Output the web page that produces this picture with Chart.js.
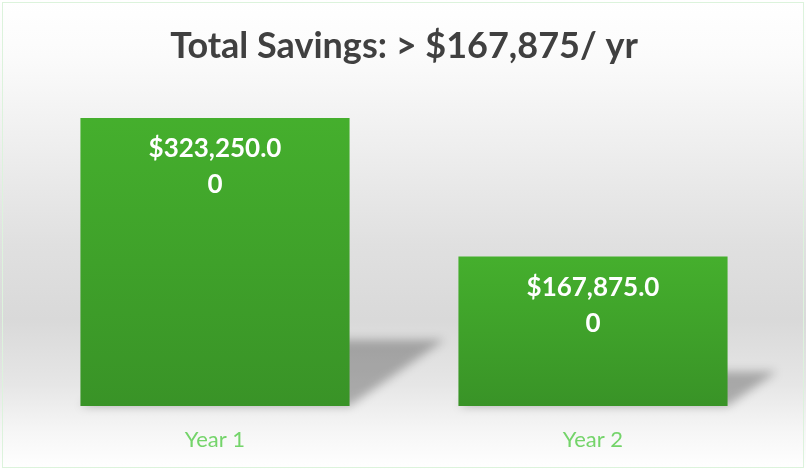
<!DOCTYPE html>
<html lang="en">
<head>
    <meta charset="UTF-8">
    <title>Total Savings</title>
    <script src="https://cdn.jsdelivr.net/npm/chart.js@4.4.1/dist/chart.umd.min.js"></script>
    <style>
        body { margin: 0; background: #fff; }
        .wrap {
            position: relative; width: 806px; height: 469px;
            background: linear-gradient(to bottom, #ffffff 0%, #fbfbfb 12%, #efefef 30%, #e0e0e0 52%, #d9d9d9 68%, #e6e6e6 82%, #f6f6f6 92%, #ffffff 100%);
        }
        .frame { position: absolute; left: 2px; top: 2px; right: 2px; bottom: 1px; border: 1px solid #dcf3dc; pointer-events: none; }
        canvas { position: absolute; left: 0; top: 0; }
    </style>
</head>
<body>
    <div class="wrap">
        <canvas id="chart" width="806" height="469"></canvas>
        <div class="frame"></div>
    </div>
    <script>
        // Data
        const categories = ['Year 1', 'Year 2'];
        const savings = [323250, 167875];
        const titleText = 'Total Savings: > $167,875/ yr';

        const BAR_TOP = '#45af2d';
        const BAR_BOTTOM = '#399327';

        function money(v) {
            return '$' + v.toLocaleString('en-US', { minimumFractionDigits: 2, maximumFractionDigits: 2 });
        }

        // break label into lines no wider than maxW (like Excel's data label wrap)
        function wrapText(ctx, text, maxW) {
            const lines = [];
            let cur = '';
            for (const ch of text) {
                if (cur && ctx.measureText(cur + ch).width > maxW) {
                    lines.push(cur);
                    cur = ch;
                } else {
                    cur += ch;
                }
            }
            if (cur) lines.push(cur);
            return lines;
        }

        // perspective shadow behind each bar
        const barShadow = {
            id: 'barShadow',
            beforeDatasetsDraw(chart) {
                const ctx = chart.ctx;
                const meta = chart.getDatasetMeta(0);
                ctx.save();
                ctx.filter = 'blur(5px)';
                ctx.fillStyle = 'rgba(0,0,0,0.27)';
                meta.data.forEach(bar => {
                    const h = bar.base - bar.y;
                    const left = bar.x - bar.width / 2;
                    const right = bar.x + bar.width / 2;
                    const dx = h * 0.33, dy = h * 0.23;
                    ctx.beginPath();
                    ctx.moveTo(left, bar.base);
                    ctx.lineTo(right, bar.base);
                    ctx.lineTo(right + dx, bar.base - dy);
                    ctx.lineTo(left + dx, bar.base - dy);
                    ctx.closePath();
                    ctx.fill();
                });
                ctx.restore();
            }
        };

        const barLabels = {
            id: 'barLabels',
            afterDatasetsDraw(chart) {
                const ctx = chart.ctx;
                const meta = chart.getDatasetMeta(0);
                ctx.save();
                ctx.font = 'bold 26px Lato, "Open Sans", sans-serif';
                ctx.fillStyle = '#ffffff';
                ctx.textAlign = 'center';
                ctx.textBaseline = 'middle';
                meta.data.forEach((bar, i) => {
                    const lines = wrapText(ctx, money(savings[i]), 140);
                    lines.forEach((ln, j) => {
                        ctx.fillText(ln, bar.x, bar.y + 31 + j * 36);
                    });
                });
                ctx.restore();
            }
        };

        const chart = new Chart(document.getElementById('chart'), {
            type: 'bar',
            data: {
                labels: categories,
                datasets: [{
                    data: savings,
                    backgroundColor(context) {
                        const c = context.chart;
                        const y = c.scales && c.scales.y;
                        if (!y || context.raw === undefined) return BAR_TOP;
                        const top = y.getPixelForValue(context.raw);
                        const bottom = y.getPixelForValue(0);
                        if (!isFinite(top) || !isFinite(bottom)) return BAR_TOP;
                        const g = c.ctx.createLinearGradient(0, top, 0, bottom);
                        g.addColorStop(0, BAR_TOP);
                        g.addColorStop(1, BAR_BOTTOM);
                        return g;
                    },
                    borderWidth: 0,
                    barPercentage: 0.712,
                    categoryPercentage: 1
                }]
            },
            options: {
                responsive: false,
                animation: false,
                layout: { padding: { left: 26, right: 24, bottom: 13 } },
                plugins: {
                    legend: { display: false },
                    tooltip: { enabled: false },
                    title: {
                        display: true,
                        text: titleText,
                        color: '#404040',
                        font: { family: 'Lato, "Open Sans", sans-serif', size: 36, weight: 'bold' },
                        padding: { top: 25, bottom: 26 }
                    }
                },
                scales: {
                    x: {
                        grid: { display: false, drawTicks: false },
                        border: { display: false },
                        afterFit(scale) { scale.height = 50; },
                        ticks: {
                            color: '#74d46a',
                            font: { family: 'Lato, "Open Sans", sans-serif', size: 22 },
                            padding: 21
                        }
                    },
                    y: {
                        display: false,
                        min: 0,
                        max: 350000
                    }
                }
            },
            plugins: [barShadow, barLabels]
        });
    </script>
</body>
</html>
